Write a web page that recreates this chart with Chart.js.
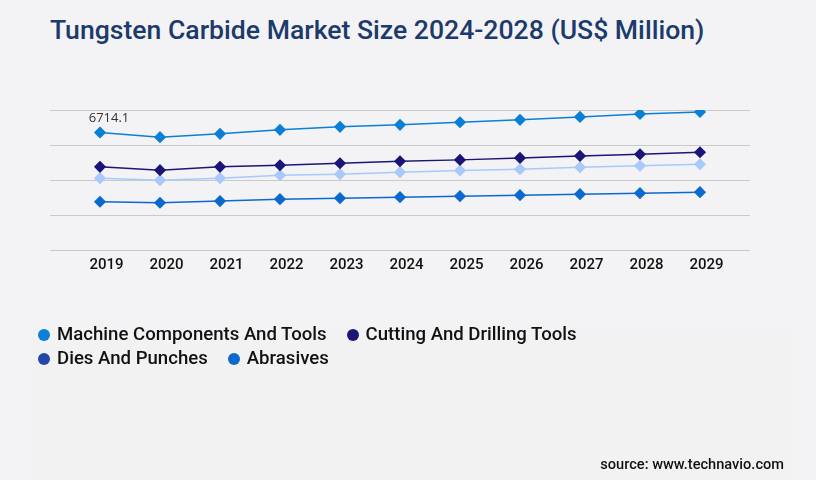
<!DOCTYPE html>
<html>
<head>
<meta charset="utf-8">
<script src="https://cdn.jsdelivr.net/npm/chart.js@4.4.1/dist/chart.umd.min.js"></script>
<style>
body{margin:0;background:#f3f3f5;font-family:Roboto,"Noto Sans",sans-serif;}
#wrap{position:relative;width:816px;height:480px;overflow:hidden;}
#panel{position:absolute;left:30px;top:330px;width:762px;height:150px;background:#f2f2f2;}
#title{position:absolute;left:50px;top:14px;font-size:26.6px;font-weight:500;color:#1c3a6b;white-space:nowrap;}
#cv{position:absolute;left:0;top:0;}
#legend{position:absolute;left:38px;top:322px;width:640px;font-size:18.6px;font-weight:500;color:#111;}
#legend .item{display:inline-block;margin-right:20px;height:24px;line-height:24px;white-space:nowrap;}
#legend .dot{display:inline-block;width:12px;height:12px;border-radius:50%;margin-right:7px;vertical-align:-1px;}
#source{position:absolute;right:32px;top:455px;font-size:14.6px;font-weight:500;color:#111;}
</style>
</head>
<body>
<div id="wrap">
<div id="panel"></div>
<div id="title">Tungsten Carbide Market Size 2024-2028 (US$ Million)</div>
<canvas id="cv" width="816" height="480"></canvas>
<div id="legend"></div>
<div id="source">source: www.technavio.com</div>
</div>
<script>
const years=[2019,2020,2021,2022,2023,2024,2025,2026,2027,2028,2029];
const machineComponents=[6714.1,6448,6638,6866,7037,7151,7303,7436,7607,7778,7892];
const cuttingDrilling=[4751,4561,4751,4846,4960,5074,5150,5264,5378,5473,5587];
const diesPunches=[4105,3990,4105,4276,4333,4447,4542,4618,4732,4808,4903];
const abrasives=[2755,2698,2793,2907,2964,3021,3078,3135,3192,3249,3306];
const seriesNames=["Machine Components And Tools","Cutting And Drilling Tools","Dies And Punches","Abrasives"];
const lineColors=["#0a7fd6","#1b1577","#a9c9fa","#0a69cf"];
const legendColors=["#0a7fd6","#1b1577","#2446a8","#0a69cf"];

function toPoints(vals){
    return vals.map((v,i)=>({x:years[i],y:v}));
}
const allSeries=[machineComponents,cuttingDrilling,diesPunches,abrasives];

const firstLabel={
    id:"firstLabel",
    afterDatasetsDraw(chart){
        const pt=chart.getDatasetMeta(0).data[0];
        const ctx=chart.ctx;
        ctx.save();
        ctx.font="13px 'Open Sans'";
        ctx.fillStyle="#333";
        ctx.textAlign="center";
        ctx.textBaseline="bottom";
        ctx.fillText(machineComponents[0],pt.x+9,pt.y-8);
        ctx.restore();
    }
};

const chart=new Chart(document.getElementById("cv"),{
    type:"line",
    data:{
        datasets:allSeries.map((vals,i)=>({
            label:seriesNames[i],
            data:toPoints(vals),
            borderColor:lineColors[i],
            backgroundColor:lineColors[i],
            borderWidth:1.5,
            pointStyle:"rectRot",
            pointRadius:5,
            pointHoverRadius:5,
            tension:0
        }))
    },
    options:{
        responsive:false,
        animation:false,
        layout:{padding:{left:50,right:66,top:110,bottom:200}},
        plugins:{legend:{display:false},tooltip:{enabled:false}},
        scales:{
            x:{
                type:"linear",
                min:2018.1667,
                max:2029.8333,
                grid:{display:false,drawTicks:false},
                border:{display:false},
                ticks:{
                    stepSize:1,
                    includeBounds:false,
                    padding:6,
                    labelOffset:6.5,
                    color:"#111",
                    font:{family:"Roboto",size:15,weight:"500"},
                    callback:v=>String(v)
                }
            },
            y:{
                min:0,
                max:8000,
                ticks:{display:false,stepSize:2000},
                grid:{color:"#c9c9c9",drawTicks:false,lineWidth:1},
                border:{display:false}
            }
        }
    },
    plugins:[firstLabel]
});

const legend=document.getElementById("legend");
chart.data.datasets.forEach((ds,i)=>{
    const item=document.createElement("span");
    item.className="item";
    const dot=document.createElement("span");
    dot.className="dot";
    dot.style.background=legendColors[i];
    item.appendChild(dot);
    item.appendChild(document.createTextNode(ds.label));
    legend.appendChild(item);
    if(i==1){
        legend.appendChild(document.createElement("br"));
    }
});
</script>
</body>
</html>
